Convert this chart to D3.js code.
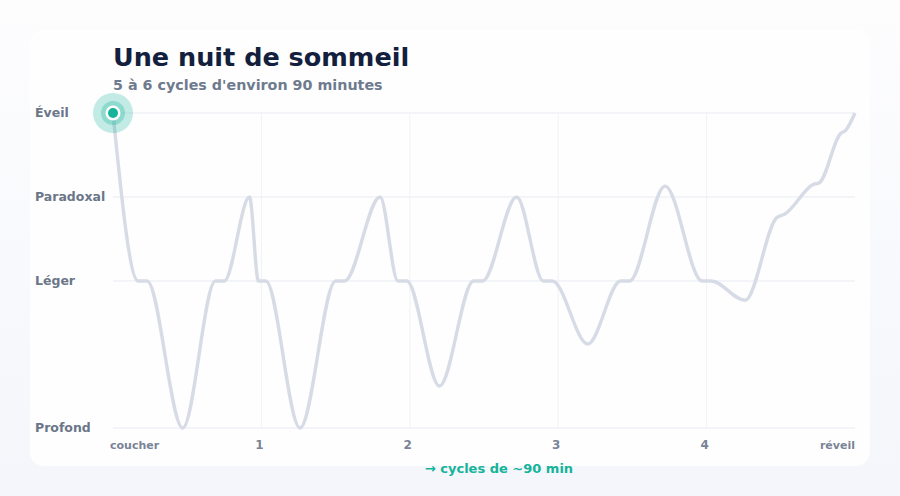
<!DOCTYPE html>
<html><head><meta charset="utf-8">
<script src="https://cdn.jsdelivr.net/npm/d3@7"></script>
<style>
body{margin:0;background:#f6f7fb;font-family:"DejaVu Sans",sans-serif;}
</style></head><body>
<svg id="c" width="900" height="496"></svg>
<script>
const stageLabels = ["Profond","Léger","Paradoxal","Éveil"];
const stageValues = [0, 1.75, 2.75, 3.75];
const xTicks = [1,2,3,4];
const hypnoT = [0,0.17,0.23,0.47,0.69,0.75,0.92,0.98,1.03,1.26,1.5,1.56,1.8,1.92,1.98,2.2,2.43,2.49,2.72,2.9,2.96,3.2,3.42,3.48,3.72,3.97,4.03,4.26,4.47,4.53,4.72,4.76,4.9,4.94,5];
const hypnoV = [3.75,1.75,1.75,0,1.75,1.75,2.75,1.75,1.75,0,1.75,1.75,2.75,1.75,1.75,0.5,1.75,1.75,2.75,1.75,1.75,1.0,1.75,1.75,2.88,1.75,1.75,1.52,2.5,2.55,2.9,2.92,3.5,3.55,3.75];

const svg = d3.select("#c");
const defs = svg.append("defs");
const g = defs.append("linearGradient").attr("id","bg").attr("x1",0).attr("y1",0).attr("x2",0).attr("y2",1);
g.append("stop").attr("offset","0%").attr("stop-color","#fdfdfe");
g.append("stop").attr("offset","100%").attr("stop-color","#f4f6fb");
svg.append("rect").attr("width",900).attr("height",496).attr("fill","url(#bg)");
svg.append("rect").attr("x",30).attr("y",30).attr("width",840).attr("height",436).attr("rx",14).attr("fill","#fefefe");

const x = d3.scaleLinear().domain([0,5]).range([113,855]);
const y = d3.scaleLinear().domain([0,3.75]).range([428,113]);

svg.append("g").selectAll("line").data(stageValues).join("line")
  .attr("x1",113).attr("x2",855).attr("y1",d=>y(d)).attr("y2",d=>y(d))
  .attr("stroke","#e8ebf1").attr("stroke-width",1);
svg.append("g").selectAll("line").data(xTicks).join("line")
  .attr("x1",d=>x(d)).attr("x2",d=>x(d)).attr("y1",113).attr("y2",428)
  .attr("stroke","#f0f2f6").attr("stroke-width",1);

svg.append("g").selectAll("text").data(stageValues).join("text")
  .attr("x",35).attr("y",d=>y(d)+4).text((d,i)=>stageLabels[i])
  .attr("font-size",12.5).attr("font-weight","bold").attr("fill","#6b7689");

svg.append("g").selectAll("text").data(xTicks).join("text")
  .attr("x",d=>x(d)-2).attr("y",449).attr("text-anchor","middle").text(d=>d)
  .attr("font-size",12).attr("font-weight","bold").attr("fill","#7a8496");
svg.append("text").attr("x",x(0)-3).attr("y",449).text("coucher")
  .attr("font-size",11).attr("font-weight","bold").attr("fill","#7a8496");
svg.append("text").attr("x",x(5)).attr("y",449).attr("text-anchor","end").text("réveil")
  .attr("font-size",11).attr("font-weight","bold").attr("fill","#7a8496");
svg.append("text").attr("x",499).attr("y",473).attr("text-anchor","middle").text("→ cycles de ~90 min")
  .attr("font-size",13).attr("font-weight","bold").attr("fill","#14b39a");

svg.append("text").attr("x",113).attr("y",66).text("Une nuit de sommeil")
  .attr("font-size",25.5).attr("font-weight","bold").attr("fill","#13203d");
svg.append("text").attr("x",113).attr("y",90).text("5 à 6 cycles d'environ 90 minutes")
  .attr("font-size",14.3).attr("font-weight","bold").attr("fill","#6e7b8f");

const pts = hypnoT.map((t,i)=>[t,hypnoV[i]]);
svg.append("path").datum(pts)
  .attr("d", d3.line().x(d=>x(d[0])).y(d=>y(d[1])).curve(d3.curveMonotoneX))
  .attr("fill","none").attr("stroke","#d6dbe6").attr("stroke-width",3.4);

const m = svg.append("g").attr("transform",`translate(${x(0)},${y(3.75)})`);
m.append("circle").attr("r",20).attr("fill","#14b39a").attr("opacity",0.25);
m.append("circle").attr("r",12).attr("fill","#14b39a").attr("opacity",0.3);
m.append("circle").attr("r",7.5).attr("fill","#fff");
m.append("circle").attr("r",5).attr("fill","#14b39a");
</script>
</body></html>
